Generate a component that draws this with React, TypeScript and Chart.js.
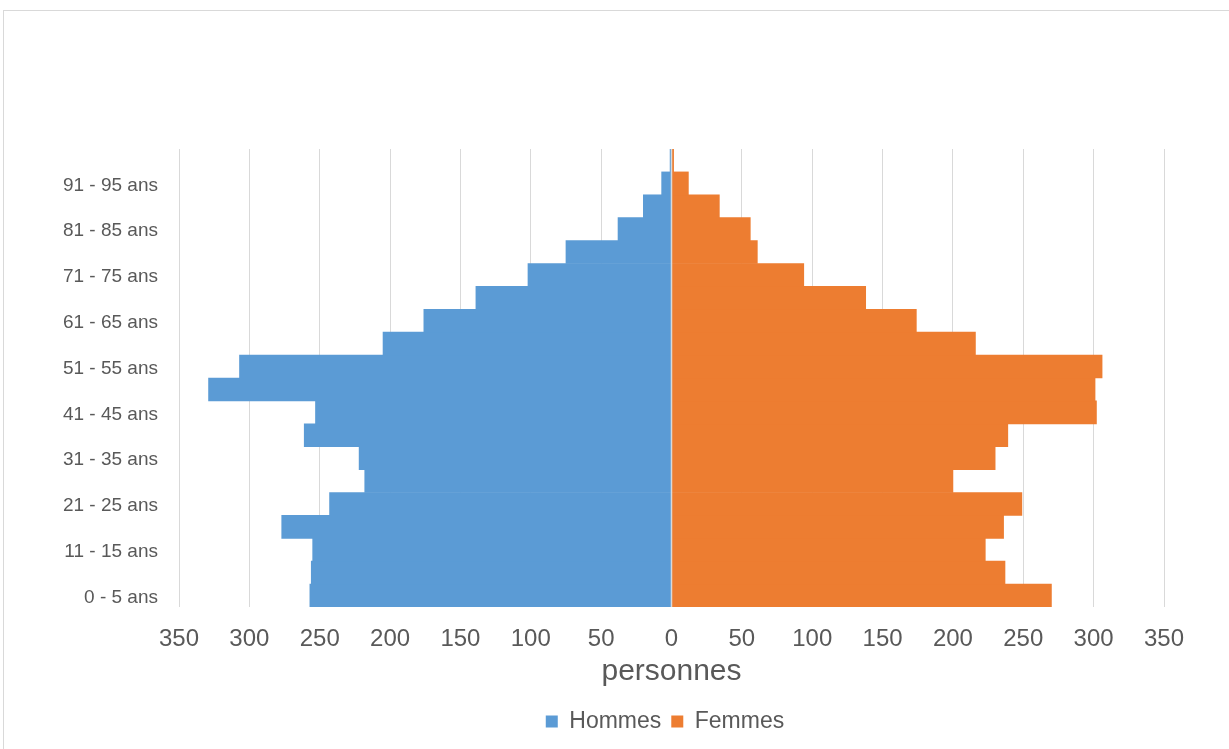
import React, { useEffect, useRef } from "react";
import { Chart, registerables } from "chart.js";

Chart.register(...registerables);

const ageGroups = [
  "0 - 5 ans", "6 - 10 ans", "11 - 15 ans", "16 - 20 ans", "21 - 25 ans",
  "26 - 30 ans", "31 - 35 ans", "36 - 40 ans", "41 - 45 ans", "46 - 50 ans",
  "51 - 55 ans", "56 - 60 ans", "61 - 65 ans", "66 - 70 ans", "71 - 75 ans",
  "76 - 80 ans", "81 - 85 ans", "86 - 90 ans", "91 - 95 ans", "96 - 100 ans",
];

const hommes = [257, 256, 255, 277, 243, 218, 222, 261, 253, 329, 307, 205, 176, 139, 102, 75, 38, 20, 7, 1];
const femmes = [270, 237, 223, 236, 249, 200, 230, 239, 302, 301, 306, 216, 174, 138, 94, 61, 56, 34, 12, 1.5];

const xTicks = [-350, -300, -250, -200, -150, -100, -50, 0, 50, 100, 150, 200, 250, 300, 350];

const FONT = "'Liberation Sans', Arial, sans-serif";
const TEXT = "#595959";
const GRID = "#d9d9d9";

const zeroLine = {
  id: "zeroLine",
  afterDatasetsDraw(chart: any) {
    const { ctx, chartArea, scales } = chart;
    const x = scales.x.getPixelForValue(0);
    ctx.save();
    ctx.strokeStyle = GRID;
    ctx.lineWidth = 1.5;
    ctx.beginPath();
    ctx.moveTo(x, chartArea.top);
    ctx.lineTo(x, chartArea.bottom);
    ctx.stroke();
    ctx.restore();
  },
};

// centre the legend like the original (its box starts further right)
const legendShift = {
  id: "legendShift",
  afterLayout(chart: any) {
    const lg = chart.legend;
    if (lg) lg.left += 162;
  },
};

export default function App() {
  const ref = useRef<HTMLCanvasElement | null>(null);

  useEffect(() => {
    if (!ref.current) return;
    const chart = new Chart(ref.current, {
      type: "bar",
      data: {
        labels: ageGroups,
        datasets: [
          {
            label: "Hommes",
            data: hommes.map((v) => -v),
            backgroundColor: "#5B9BD5",
            borderWidth: 0,
            categoryPercentage: 1,
            barPercentage: 1,
          },
          {
            label: "Femmes",
            data: femmes,
            backgroundColor: "#ED7D31",
            borderWidth: 0,
            categoryPercentage: 1,
            barPercentage: 1,
          },
        ],
      },
      plugins: [zeroLine, legendShift],
      options: {
        indexAxis: "y",
        responsive: false,
        animation: false,
        layout: { padding: { top: 138, bottom: 6, left: 0, right: 65 } },
        scales: {
          x: {
            stacked: true,
            min: -350,
            max: 350,
            afterBuildTicks: (s: any) => {
              s.ticks = xTicks.map((v) => ({ value: v }));
            },
            afterFit: (s: any) => {
              s.height = 93;
            },
            grid: { color: GRID, lineWidth: 1, drawTicks: false },
            border: { display: false },
            ticks: {
              color: TEXT,
              font: { family: FONT, size: 24 },
              padding: 18,
              maxRotation: 0,
              callback: (v: any) => String(Math.abs(Number(v))),
            },
            title: {
              display: true,
              text: "personnes",
              color: TEXT,
              font: { family: FONT, size: 30 },
              padding: { top: 0, bottom: 10 },
            },
          },
          y: {
            stacked: true,
            reverse: true,
            afterFit: (s: any) => {
              s.width = 175;
            },
            grid: { display: false, drawTicks: false },
            border: { display: false },
            ticks: {
              color: TEXT,
              font: { family: FONT, size: 19 },
              padding: 21,
              labelOffset: 2,
              autoSkip: false,
              callback: (_v: any, i: number) => (i % 2 === 0 ? ageGroups[i] : ""),
            },
          },
        },
        plugins: {
          legend: {
            position: "bottom",
            labels: {
              color: TEXT,
              font: { family: FONT, size: 23 },
              boxWidth: 12,
              boxHeight: 12,
              padding: 10,
            },
          },
          tooltip: { enabled: false },
          title: { display: false },
        },
      },
    } as any);
    return () => chart.destroy();
  }, []);

  return (
    <div
      style={{
        position: "absolute",
        left: 0,
        top: 0,
        width: 1229,
        height: 749,
        overflow: "hidden",
        background: "#fff",
      }}
    >
      <div
        style={{
          position: "absolute",
          left: 3,
          top: 10,
          width: 1400,
          height: 900,
          borderLeft: "1px solid #d9d9d9",
          borderTop: "1px solid #d9d9d9",
        }}
      />
      <canvas
        ref={ref}
        width={1225}
        height={738}
        style={{ position: "absolute", left: 4, top: 11, width: 1225, height: 738 }}
      />
    </div>
  );
}
